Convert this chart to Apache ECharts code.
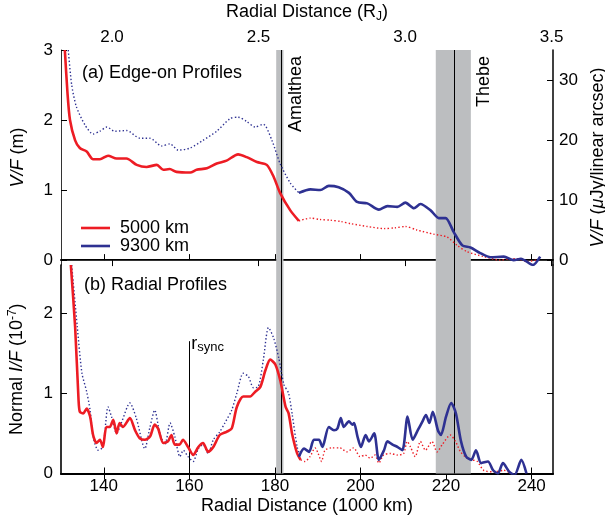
<!DOCTYPE html>
<html>
<head>
<meta charset="utf-8">
<script src="https://cdn.jsdelivr.net/npm/echarts@6/dist/echarts.min.js"></script>
<style>
html,body{margin:0;padding:0;background:#fff;}
#main{width:605px;height:522px;}
</style>
</head>
<body>
<div id="main"></div>
<script>
// ---------- data (x in 1000 km) ----------
// (a) Edge-on profiles, V/F (m)
const edgeRed5000 = [[130.9,3.0],[131.5,2.4],[132.1,2.0],[133.3,1.71],[134.4,1.6],[136,1.55],[137.5,1.44],[139.1,1.44],[141,1.49],[143,1.45],[145.3,1.45],[147.7,1.36],[150,1.33],[152.4,1.36],[153.9,1.29],[155.4,1.3],[157,1.26],[160.2,1.25],[161.7,1.29],[164.1,1.31],[166.4,1.38],[168.7,1.42],[171.4,1.51],[173.4,1.47],[175.8,1.40],[178.1,1.36],[179.7,1.19],[181.2,0.96],[183.6,0.71],[185.6,0.56]];
const edgeRed5000Faint = [[185.6,0.56],[188.3,0.6],[190.5,0.58],[193,0.57],[195.5,0.55],[197.7,0.52],[201.6,0.48],[205.5,0.45],[208,0.46],[210.5,0.48],[213.2,0.43],[217.1,0.37],[220.2,0.33],[222.6,0.21],[224.9,0.12],[228.8,0.05],[232.7,0.0],[235,0.02],[236.6,0.02],[239,-0.02],[241,0.0]];
const edgeBlue9300Faint = [[131.7,3.0],[132.5,2.5],[133.6,2.19],[135.6,1.93],[137.5,1.80],[139.1,1.84],[140.7,1.90],[142.6,1.84],[145.3,1.85],[148.5,1.74],[150.8,1.74],[153.5,1.63],[155.5,1.66],[157.4,1.57],[160.2,1.6],[163.2,1.71],[166.4,1.84],[169.5,2.02],[171.4,2.04],[173.4,1.98],[175.4,1.90],[177.3,1.94],[179.3,1.71],[181.2,1.38],[183.6,1.1],[185.6,0.96]];
const edgeBlue9300 = [[185.6,0.96],[188.3,1.01],[190.6,1.0],[192.6,1.06],[194.9,1.04],[197.3,0.96],[199.2,0.83],[201.6,0.81],[204.3,0.72],[206.3,0.77],[208.6,0.76],[210.5,0.82],[212.5,0.74],[214,0.8],[216.4,0.71],[218.3,0.6],[219.9,0.6],[221.8,0.40],[223.8,0.21],[225.7,0.18],[228,0.1],[230.4,0.04],[233.5,0.05],[235.8,0.0],[237.5,0.02],[240.3,-0.07],[242,0.05]];

// (b) Radial profiles, Normal I/F (1e-7)
const radRed5000 = [[132.3,2.6],[133.3,1.83],[134.1,0.92],[134.4,0.77],[135.2,0.75],[136,0.81],[136.8,0.71],[137.5,0.48],[138.3,0.38],[139.1,0.42],[139.8,0.33],[140.6,0.58],[141.4,0.58],[142.2,0.67],[143,0.5],[143.7,0.63],[144.5,0.58],[146.1,0.69],[147.3,0.54],[148.4,0.44],[149.6,0.42],[150.8,0.46],[151.9,0.61],[152.7,0.56],[153.9,0.38],[155,0.40],[155.8,0.48],[156.6,0.36],[157.7,0.36],[158.5,0.42],[159.7,0.33],[160.9,0.23],[162.1,0.33],[163.2,0.38],[164.4,0.27],[165.6,0.33],[167.1,0.48],[168.7,0.52],[169.9,0.56],[171.1,0.83],[172.6,0.96],[174.2,0.96],[175.4,1.02],[176.6,1.08],[177.8,1.29],[178.9,1.42],[180.1,1.36],[181.3,1.15],[182.5,0.83],[183.2,0.75],[184,0.5],[185.2,0.25],[186,0.17]];
const radRed5000Faint = [[186,0.17],[187,0.15],[188.2,0.21],[189.4,0.32],[190.1,0.25],[190.9,0.15],[191.7,0.29],[193.3,0.32],[195.2,0.32],[196.8,0.27],[198.4,0.32],[199.9,0.21],[201.1,0.23],[202.3,0.19],[203.4,0.23],[204.3,0.13],[205.4,0.23],[207,0.25],[208.6,0.23],[210.1,0.25],[210.9,0.4],[211.7,0.33],[212.8,0.21],[214,0.40],[215.2,0.29],[216.7,0.4],[217.9,0.27],[219.1,0.36],[221,0.48],[222.2,0.40],[223.4,0.27],[224.9,0.19],[226.1,0.17],[227.3,0.15],[228.8,0.04],[231.2,0.02],[233.5,0.04],[235.1,0.0]];
const radBlue9300Faint = [[132.5,2.6],[133.8,1.83],[134.9,1.25],[136,1.02],[136.8,0.79],[137.5,0.46],[138.7,0.29],[139.8,0.33],[141,0.83],[141.8,0.71],[143,0.5],[144.1,0.63],[146.1,0.88],[147.6,0.69],[149.6,0.31],[150.8,0.58],[151.9,0.79],[153.1,0.5],[154.3,0.36],[155.5,0.63],[156.6,0.46],[157.8,0.21],[158.6,0.29],[159.7,0.21],[160.9,0.15],[162.1,0.31],[163.2,0.36],[164.4,0.25],[165.6,0.42],[167.1,0.52],[168.3,0.63],[169.9,0.79],[171.1,1.0],[172.6,1.25],[173.8,1.21],[175,1.07],[176.1,1.08],[177.3,1.42],[178.5,1.82],[179.7,1.69],[180.9,1.44],[182.1,1.11],[183.2,1.0],[184,0.75],[185.2,0.33],[186,0.21]];
const radBlue9300 = [[185.6,0.21],[186.8,0.31],[188,0.27],[189.1,0.42],[190.3,0.42],[191.1,0.33],[192.6,0.58],[193.8,0.54],[194.6,0.56],[195.4,0.69],[196.1,0.58],[197.3,0.65],[198.1,0.61],[198.5,0.63],[199.3,0.46],[200.1,0.33],[201.2,0.48],[202,0.4],[203.2,0.5],[204.3,0.17],[205.5,0.29],[206.3,0.40],[207.5,0.36],[208.7,0.33],[209.8,0.29],[211,0.71],[212.2,0.42],[213.4,0.54],[214.5,0.65],[215.3,0.73],[216.1,0.63],[216.9,0.77],[218.1,0.54],[218.8,0.48],[220,0.71],[221.2,0.88],[222.3,0.75],[223.5,0.4],[224.7,0.21],[225.9,0.17],[227,0.29],[228.2,0.13],[229.8,0.15],[231,0.04],[232.1,0.0],[233.3,0.13],[234.8,0.02],[236,-0.02],[237.6,0.17],[238.8,0.0]];

// moons (1000 km): orbit radius and radial excursion band
const moonNames = ['Amalthea', 'Thebe'];
const moonOrbit = [181.4, 221.9];
const moonBandLo = [180.3, 217.6];
const moonBandHi = [182.0, 225.8];
const rSync = 160;
const rSyncTop = 1.65;

// tick values
const kmTicks = [140, 160, 180, 200, 220, 240];
const rjTicks = [2.0, 2.5, 3.0, 3.5];
const edgeTicksM = [0, 1, 2, 3];
const edgeTicksJy = [0, 10, 20, 30];
const radTicks = [0, 1, 2];

// ---------- styling ----------
const RED = '#ed1c24';
const BLUE = '#2e3192';
const GRAYBAND = '#bcbec0';
const FONT = '"Liberation Sans", Arial, Helvetica, sans-serif';
const FS = 17;

function lineSeries(name, data, xi, yi, color, dotted) {
  return {
    name: name, type: 'line', data: data, xAxisIndex: xi, yAxisIndex: yi,
    symbol: 'none', showSymbol: false, smooth: 0.25, z: 5,
    lineStyle: dotted ? {color: color, width: 1.4, type: [1.4, 2.2]} : {color: color, width: 2.6},
    itemStyle: {color: color},
    clip: true, silent: true
  };
}

function moonMarks(xi, yi) {
  return {
    type: 'line', data: [], xAxisIndex: xi, yAxisIndex: yi, z: 1, silent: true,
    markArea: {
      silent: true,
      itemStyle: {color: GRAYBAND},
      data: moonBandLo.map((lo, i) => [{xAxis: lo}, {xAxis: moonBandHi[i]}])
    },
    markLine: {
      silent: true, symbol: 'none', label: {show: false},
      lineStyle: {color: '#000', width: 1, type: 'solid'},
      data: moonOrbit.map(v => ({xAxis: v}))
    }
  };
}

const tickStyle = {color: '#000', width: 1};
const labelStyle = {color: '#000', fontFamily: FONT, fontSize: FS};
const nameStyle = {color: '#000', fontFamily: FONT, fontSize: 18};

const option = {
  animation: false,
  backgroundColor: '#fff',
  textStyle: {fontFamily: FONT},
  grid: [
    {left: 61, right: 52, top: 50, height: 215, containLabel: false, outerBoundsMode: 'none'},
    {left: 61, right: 52, top: 265, height: 208.5, containLabel: false, outerBoundsMode: 'none'}
  ],
  legend: {
    data: ['5000 km', '9300 km'],
    orient: 'vertical', left: 76, top: 214,
    icon: 'rect', itemWidth: 29, itemHeight: 2.6, itemGap: 0,
    selectedMode: false,
    textStyle: {color: '#000', fontFamily: FONT, fontSize: 18, lineHeight: 17, padding: [0, 0, 0, 5]}
  },
  xAxis: [
    {gridIndex: 0, type: 'value', position: 'bottom', min: 130, max: 245,
     axisLine: {lineStyle: {color: '#000', width: 2}},
     axisTick: {inside: true, length: 6, customValues: kmTicks, lineStyle: tickStyle},
     axisLabel: {show: false}, splitLine: {show: false}},
    {gridIndex: 0, type: 'value', position: 'top', min: 1.826, max: 3.505,
     name: 'Radial Distance (R{sub|J})', nameLocation: 'middle', nameGap: 27,
     nameTextStyle: Object.assign({}, nameStyle, {rich: {sub: {fontFamily: FONT, fontSize: 12, padding: [9, 0, 0, 0]}}}),
     axisLine: {lineStyle: {color: '#333', width: 1}},
     axisTick: {inside: true, length: 6, customValues: rjTicks, lineStyle: tickStyle},
     axisLabel: Object.assign({}, labelStyle, {customValues: rjTicks, margin: 4, formatter: v => v.toFixed(1)}),
     splitLine: {show: false}},
    {gridIndex: 1, type: 'value', position: 'bottom', min: 130, max: 245,
     name: 'Radial Distance (1000 km)', nameLocation: 'middle', nameGap: 24,
     nameTextStyle: nameStyle,
     axisLine: {lineStyle: {color: '#000', width: 1.6}},
     axisTick: {inside: true, length: 6, customValues: kmTicks, lineStyle: tickStyle},
     axisLabel: Object.assign({}, labelStyle, {customValues: kmTicks, margin: 4}),
     splitLine: {show: false}},
    {gridIndex: 1, type: 'value', position: 'top', min: 130, max: 245,
     axisLine: {lineStyle: {color: '#000', width: 2}},
     axisTick: {inside: true, length: 6, customValues: kmTicks, lineStyle: tickStyle},
     axisLabel: {show: false}, splitLine: {show: false}}
  ],
  yAxis: [
    {gridIndex: 0, type: 'value', position: 'left', min: -0.07, max: 3,
     name: '{i|V/F} (m)', nameLocation: 'middle', nameGap: 34, nameRotate: 90,
     nameTextStyle: Object.assign({}, nameStyle, {rich: {i: {fontFamily: FONT, fontSize: 18, fontStyle: 'italic'}}}),
     axisLine: {lineStyle: {color: '#333', width: 1}},
     axisTick: {inside: true, length: 6, customValues: edgeTicksM, lineStyle: tickStyle},
     axisLabel: Object.assign({}, labelStyle, {customValues: edgeTicksM, margin: 8}),
     splitLine: {show: false}},
    {gridIndex: 0, type: 'value', position: 'right', min: -0.817, max: 35,
     name: '{i|V/F} ({i|μ}Jy/linear arcsec)', nameLocation: 'middle', nameGap: 25, nameRotate: 90,
     nameTextStyle: Object.assign({}, nameStyle, {rich: {i: {fontFamily: FONT, fontSize: 18, fontStyle: 'italic'}}}),
     axisLine: {lineStyle: {color: '#000', width: 1.5}},
     axisTick: {inside: true, length: 6, customValues: edgeTicksJy, lineStyle: tickStyle},
     axisLabel: Object.assign({}, labelStyle, {customValues: edgeTicksJy, margin: 6}),
     splitLine: {show: false}},
    {gridIndex: 1, type: 'value', position: 'left', min: 0, max: 2.6,
     name: 'Normal {i|I/F} (10{sup|-7})', nameLocation: 'middle', nameGap: 34, nameRotate: 90,
     nameTextStyle: Object.assign({}, nameStyle, {rich: {
       i: {fontFamily: FONT, fontSize: 18, fontStyle: 'italic'},
       sup: {fontFamily: FONT, fontSize: 12, padding: [0, 0, 8, 0]}}}),
     axisLine: {lineStyle: {color: '#000', width: 1.6}},
     axisTick: {inside: true, length: 6, customValues: radTicks, lineStyle: tickStyle},
     axisLabel: Object.assign({}, labelStyle, {customValues: radTicks, margin: 8}),
     splitLine: {show: false}},
    {gridIndex: 1, type: 'value', position: 'right', min: 0, max: 2.6,
     axisLine: {lineStyle: {color: '#000', width: 1.5}},
     axisTick: {inside: true, length: 6, customValues: [1, 2], lineStyle: tickStyle},
     axisLabel: {show: false}, splitLine: {show: false}}
  ],
  series: [
    moonMarks(0, 0),
    moonMarks(2, 2),
    {type: 'line', data: [], xAxisIndex: 2, yAxisIndex: 2, z: 2, silent: true,
     markLine: {silent: true, symbol: 'none', label: {show: false},
       lineStyle: {color: '#000', width: 1, type: 'solid'},
       data: [[{coord: [rSync, 0]}, {coord: [rSync, rSyncTop]}]]}},
    lineSeries('5000 km dotted', edgeRed5000Faint, 0, 0, RED, true),
    lineSeries('9300 km dotted', edgeBlue9300Faint, 0, 0, BLUE, true),
    lineSeries('5000 km', edgeRed5000, 0, 0, RED, false),
    lineSeries('9300 km', edgeBlue9300, 0, 0, BLUE, false),
    lineSeries('5000 km r-dotted', radRed5000Faint, 2, 2, RED, true),
    lineSeries('9300 km r-dotted', radBlue9300Faint, 2, 2, BLUE, true),
    lineSeries('5000 km r', radRed5000, 2, 2, RED, false),
    lineSeries('9300 km r', radBlue9300, 2, 2, BLUE, false)
  ]
};

const chart = echarts.init(document.getElementById('main'), null, {renderer: 'canvas'});
chart.setOption(option);

// annotations positioned from data through the axes
const topPx = (x, y) => chart.convertToPixel({xAxisIndex: 0, yAxisIndex: 0}, [x, y]);
const botPx = (x, y) => chart.convertToPixel({xAxisIndex: 2, yAxisIndex: 2}, [x, y]);
const gTop = topPx(130, 3)[1];
const graphics = [];
moonNames.forEach((nm, i) => {
  const p = topPx(moonBandHi[i], 3);
  graphics.push({type: 'text', x: p[0] + 13, y: gTop + 6, rotation: Math.PI / 2, z: 10,
    style: {text: nm, fill: '#000', font: '18px ' + FONT, textAlign: 'right', textVerticalAlign: 'middle'}});
});
graphics.push({type: 'text', left: 82, top: 64, z: 10,
  style: {text: '(a) Edge-on Profiles', fill: '#000', font: '18px ' + FONT}});
graphics.push({type: 'text', left: 84, top: 276, z: 10,
  style: {text: '(b) Radial Profiles', fill: '#000', font: '18px ' + FONT}});
const rs = botPx(rSync, rSyncTop);
graphics.push({type: 'text', x: rs[0] + 2, y: rs[1] + 3, z: 10,
  style: {text: 'r', fill: '#000', font: '18px ' + FONT, textAlign: 'left', textVerticalAlign: 'middle'}});
graphics.push({type: 'text', x: rs[0] + 8, y: rs[1] + 6, z: 10,
  style: {text: 'sync', fill: '#000', font: '13px ' + FONT, textAlign: 'left', textVerticalAlign: 'middle'}});
chart.setOption({graphic: graphics});
</script>
</body>
</html>
